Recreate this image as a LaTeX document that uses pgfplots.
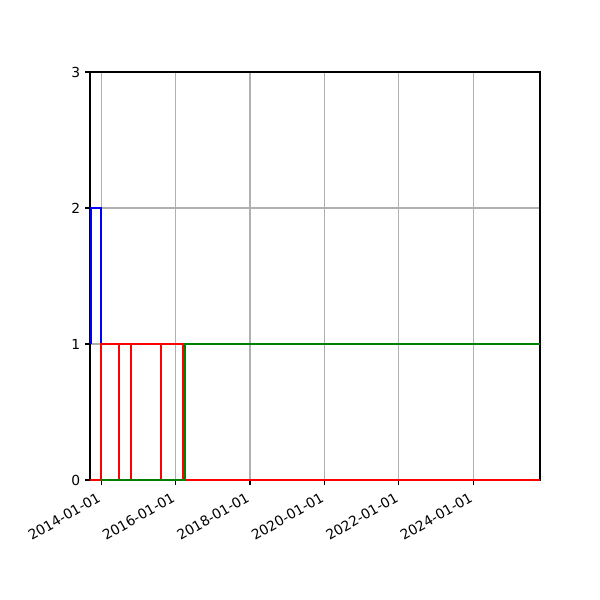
\documentclass[border=0pt]{standalone}
\usepackage{fontspec}
\setmainfont{DejaVu Sans}
\usepackage{pgfplots}
\pgfplotsset{compat=1.18}

\definecolor{mplgreen}{RGB}{0,128,0}
\definecolor{gridgray}{RGB}{176,176,176}

\begin{document}
\fontsize{10}{12}\selectfont
\begin{tikzpicture}
% page = 6in x 6in -> 600 px, axis box 450 x 408 px
\path[use as bounding box] (-0.90in,-1.20in) rectangle (5.10in,4.80in);
\begin{axis}[
    at={(0,0)}, anchor=south west,
    scale only axis,
    width=4.5in, height=4.08in,
    xmin=2013.70, xmax=2025.79,
    ymin=0, ymax=3,
    xtick={2014,2016,2018,2020,2022,2024},
    xticklabels={2014-01-01,2016-01-01,2018-01-01,2020-01-01,2022-01-01,2024-01-01},
    ytick={0,1,2,3},
    /pgf/number format/assume math mode=true,
    x tick label style={rotate=30, anchor=north east, xshift=-2pt, yshift=1pt,
        font=\fontsize{10}{12}\selectfont},
    y tick label style={font=\fontsize{10}{12}\selectfont},
    tick align=outside,
    major tick length=3.5pt,
    tick style={black, line width=0.8pt},
    xtick pos=bottom, ytick pos=left,
    axis line style={line width=0.8pt},
    grid=major,
    major grid style={gridgray, line width=0.8pt},
]
% blue series
\addplot[blue, line width=1.5pt] coordinates {
    (2013.731,1) (2013.731,2) (2013.984,2) (2013.984,1) (2016.242,1)
};
% red series
\addplot[red, line width=1.5pt] coordinates {
    (2013.60,0) (2013.990,0) (2013.990,1)
    (2014.468,1) (2014.468,0) (2014.468,1)
    (2014.790,1) (2014.790,0) (2014.790,1)
    (2015.610,1) (2015.610,0) (2015.610,1)
    (2016.188,1) (2016.188,0) (2025.90,0)
};
% green series
\addplot[mplgreen, line width=1.5pt] coordinates {
    (2013.990,0) (2016.242,0) (2016.242,1) (2025.90,1)
};
\end{axis}
\end{tikzpicture}
\end{document}
